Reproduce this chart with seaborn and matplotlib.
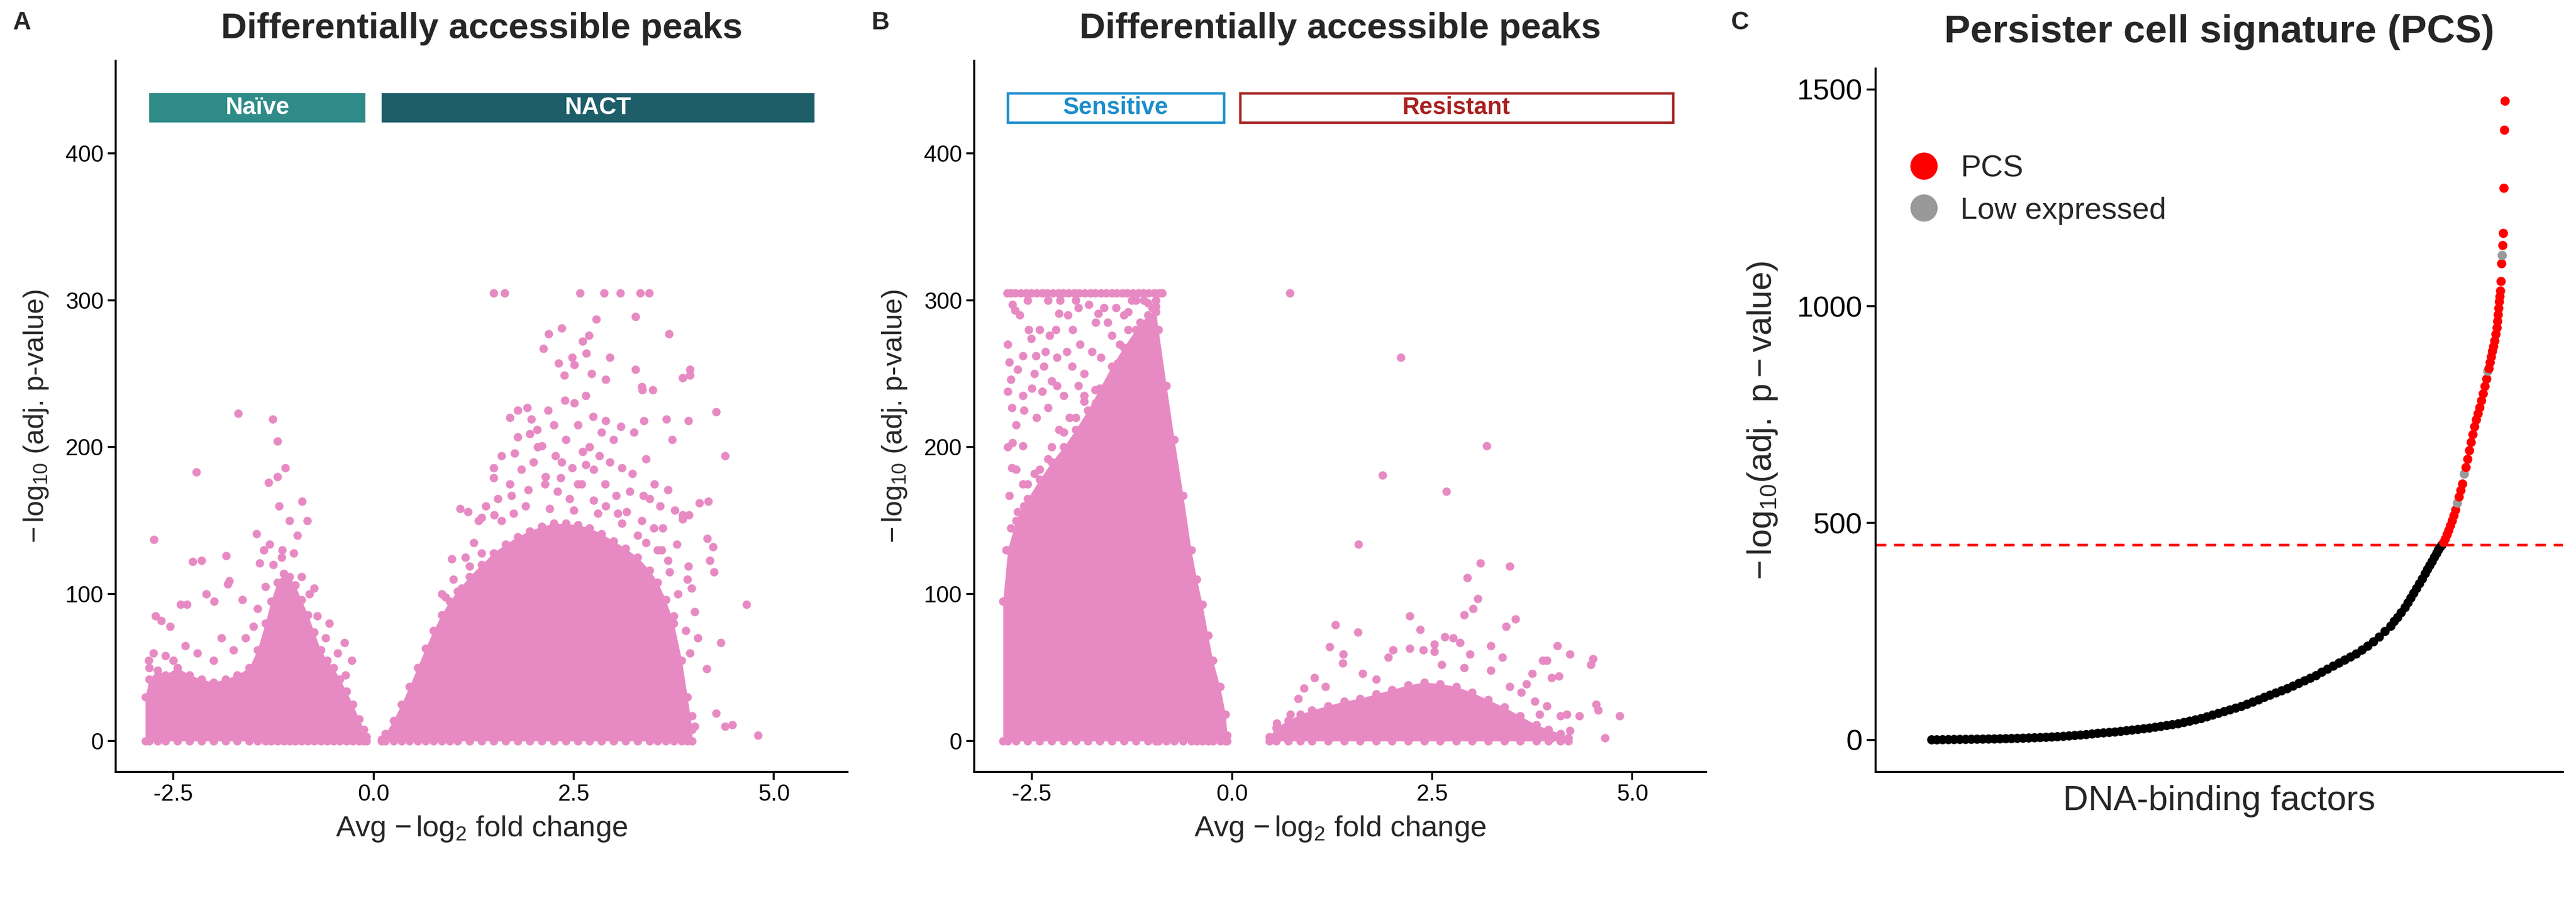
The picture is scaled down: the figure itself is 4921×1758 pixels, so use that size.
import numpy as np
import pandas as pd
import matplotlib
matplotlib.use("Agg")
import matplotlib.pyplot as plt
import seaborn as sns
from matplotlib.lines import Line2D

# ---------------- data ----------------
# Panel A : NACT vs Naive  (dense cloud envelopes + sparse points)
naive_env_x = [-2.85, -2.80, -2.70, -2.60, -2.45, -2.30, -2.15, -2.00, -1.85, -1.70, -1.55, -1.45,
               -1.35, -1.28, -1.20, -1.12, -1.05, -0.98, -0.90, -0.82, -0.74, -0.66, -0.58, -0.50,
               -0.42, -0.34, -0.26, -0.18, -0.12, -0.09]
naive_env_y = [30, 42, 48, 45, 50, 45, 42, 40, 42, 45, 50, 62, 80, 95, 108, 114, 112, 106, 96, 86,
               74, 62, 55, 50, 42, 34, 25, 15, 8, 3]
naive_pts_x = [-1.69, -1.26, -1.20, -2.21, -2.74, -1.31, -1.20, -1.10, -0.89, -0.83, -1.46, -1.84,
               -2.26, -2.15, -0.74, -2.09, -2.72, -2.65, -2.54, -2.81, -2.41, -2.33, -1.99, -1.82,
               -1.80, -1.64, -1.42, -1.37, -1.14, -1.30, -0.55, -0.36, -0.27, -1.18, -1.05, -0.95,
               -2.80, -2.75, -2.60, -2.50, -2.35, -2.20, -2.00, -1.90, -1.75, -1.60, -1.50, -1.45,
               -1.35, -1.25, -1.15, -1.00, -0.90, -0.80, -0.70, -0.60, -0.45, -0.35]
naive_pts_y = [223, 219, 204, 183, 137, 176, 180, 186, 163, 150, 141, 126, 122, 123, 104, 100, 85,
               82, 78, 55, 93, 93, 95, 107, 109, 96, 121, 130, 130, 134, 80, 67, 55, 160, 150, 140,
               50, 60, 58, 55, 65, 60, 55, 70, 62, 70, 78, 90, 105, 120, 125, 128, 112, 100, 85,
               70, 60, 45]

nact_env_x = [0.10, 0.15, 0.25, 0.35, 0.45, 0.55, 0.65, 0.75, 0.85, 0.95, 1.05, 1.20, 1.35, 1.50,
              1.65, 1.80, 1.95, 2.10, 2.25, 2.40, 2.55, 2.70, 2.85, 3.00, 3.15, 3.30, 3.45, 3.55,
              3.65, 3.75, 3.85, 3.92, 3.98]
nact_env_y = [1, 5, 14, 25, 37, 50, 63, 75, 86, 95, 102, 112, 120, 128, 134, 139, 143, 146, 148,
              148, 147, 145, 141, 136, 131, 125, 116, 108, 96, 80, 55, 30, 8]
nact_pts_x = [1.50, 1.64, 2.58, 2.88, 3.08, 3.33, 3.44, 3.27, 2.78, 2.35, 2.19, 3.69, 2.69, 2.12,
              2.61, 2.66, 2.95, 2.48, 2.31, 2.51, 3.27, 3.95, 2.38, 3.95, 3.86, 2.90, 2.72, 3.35,
              3.49, 3.36, 2.65, 2.39, 2.51, 1.92, 1.80, 2.18, 4.28, 2.74, 2.90, 3.93, 3.38, 3.66,
              1.70, 1.97, 3.09, 4.39, 3.73, 4.07, 4.18, 3.86, 3.86, 3.94, 4.24, 4.20, 4.17, 4.25,
              3.93, 4.66, 3.92, 3.97, 4.01, 4.34, 4.16, 4.28, 3.98, 4.01, 4.39, 4.48, 4.80, 3.70,
              3.85, 3.79, 3.21, 3.15, 2.96, 3.46, 3.50, 0.98, 1.20, 1.08, 1.18, 1.35, 1.51, 1.31,
              1.50, 1.50, 1.80, 1.95, 1.76, 1.60, 1.35, 1.10, 0.90, 2.04, 2.10, 2.27, 2.48, 2.61,
              2.82, 2.95, 3.10, 3.23, 3.40, 3.51, 3.37, 3.58, 3.16, 2.89, 2.55, 2.34, 2.14, 1.93,
              1.72, 3.03, 2.75, 3.68, 3.76, 3.61, 3.55, 3.79, 3.68,
              1.40, 1.55, 1.70, 1.85, 2.00, 2.15, 2.30, 2.45, 2.60, 2.75, 2.90, 3.05, 3.20, 3.35,
              3.50, 1.60, 1.90, 2.20, 2.50, 2.80, 3.10, 2.05, 2.40, 2.70, 3.00, 2.25, 2.55, 2.85,
              3.25, 1.75, 2.35, 2.65, 3.45, 3.60, 3.70, 3.80, 3.75, 3.90, 3.95, 4.05, 1.25, 1.15,
              1.00, 0.85, 3.30, 3.40]
nact_pts_y = [305, 305, 305, 305, 305, 305, 305, 289, 287, 281, 277, 277, 276, 267, 272, 264, 261,
              261, 257, 256, 253, 253, 249, 249, 247, 246, 250, 241, 239, 239, 235, 232, 230, 227,
              225, 225, 224, 221, 218, 218, 218, 219, 220, 219, 214, 194, 205, 162, 163, 151, 154,
              154, 132, 123, 138, 115, 119, 93, 110, 104, 88, 67, 49, 19, 17, 10, 10, 11, 4, 3, 3,
              31, 9, 7, 3, 16, 14, 124, 119, 158, 156, 152, 154, 150, 186, 179, 207, 209, 196, 194,
              128, 104, 98, 212, 201, 194, 186, 197, 194, 190, 186, 182, 192, 175, 167, 160, 156,
              175, 175, 179, 175, 171, 167, 167, 164, 171, 157, 145, 130, 134, 123,
              160, 165, 175, 185, 190, 180, 170, 165, 175, 185, 160, 155, 170, 150, 145, 150, 160,
              158, 157, 155, 148, 200, 205, 200, 205, 215, 215, 210, 210, 155, 190, 188, 165, 130,
              115, 100, 85, 75, 60, 70, 135, 125, 110, 100, 140, 135]

# Panel B : Resistant vs Sensitive
sens_env_x = [-2.86, -2.80, -2.70, -2.55, -2.40, -2.25, -2.10, -1.95, -1.80, -1.65, -1.50, -1.35,
              -1.20, -1.05, -0.95, -0.92, -0.82, -0.72, -0.61, -0.51, -0.44, -0.37, -0.30, -0.24,
              -0.15, -0.08, -0.06]
sens_env_y = [95, 130, 150, 165, 178, 190, 200, 212, 225, 240, 255, 268, 280, 290, 292, 280, 242,
              205, 167, 130, 110, 93, 72, 55, 37, 18, 4]
sens_cap_x = [-2.81, -2.76, -2.71, -2.64, -2.57, -2.51, -2.44, -2.37, -2.31, -2.24, -2.17, -2.11,
              -2.04, -1.97, -1.91, -1.84, -1.77, -1.71, -1.64, -1.57, -1.50, -1.44, -1.37, -1.31,
              -1.24, -1.17, -1.11, -1.04, -0.97, -0.91, -0.87]
sens_pts_x = [-2.80, -2.76, -2.78, -2.68, -2.74, -2.71, -2.54, -2.40, -2.51, -2.28, -2.33, -2.61,
              -2.47, -2.19, -2.06, -1.92, -1.79, -1.67, -1.99, -2.16, -2.30, -2.75, -2.61, -2.74,
              -2.61, -2.44, -2.30, -2.16, -2.03, -1.85, -1.71, -1.92, -2.19, -2.37, -2.75, -2.61,
              -2.47, -2.30, -2.13, -1.96, -1.78, -1.64, -1.50, -1.43, -1.54, -2.78, -2.68, -2.54,
              -2.82, -2.76, -1.20, -1.05, -0.95, -1.30,
              -2.70, -2.60, -2.50, -2.45, -2.35, -2.25, -2.10, -2.00, -1.90, -1.85, -1.75, -1.70,
              -1.60, -1.55, -1.45, -1.40, -1.30, -1.25, -1.15, -1.10, -1.00, -0.95, -2.05, -2.20,
              -2.55, -2.65, -2.80, -2.80, -2.70, -2.55, -2.40, -2.25, -2.10, -1.95, -1.85, -2.00,
              -2.35, -2.60, -1.60, -1.70, -1.45, -1.35, -2.15, -1.95]
sens_pts_y = [238, 246, 258, 253, 297, 293, 280, 280, 274, 276, 265, 262, 250, 261, 265, 295, 297,
              291, 280, 291, 300, 227, 235, 203, 201, 220, 227, 212, 220, 231, 239, 242, 242, 238,
              186, 175, 182, 192, 186, 197, 212, 261, 276, 257, 242, 167, 156, 149, 130, 145, 300,
              298, 296, 292,
              215, 225, 240, 262, 255, 245, 235, 255, 270, 250, 265, 285, 295, 285, 295, 270, 280,
              300, 285, 300, 295, 300, 290, 280, 300, 290, 270, 200, 185, 175, 185, 200, 210, 220,
              235, 190, 170, 160, 240, 230, 255, 290, 300, 300]

res_env_x = [0.47, 0.55, 0.70, 0.85, 1.00, 1.20, 1.40, 1.60, 1.80, 2.00, 2.20, 2.40, 2.60, 2.80,
             3.00, 3.20, 3.40, 3.60, 3.80, 3.95, 4.10, 4.20]
res_env_y = [3, 9, 14, 18, 21, 24, 27, 29, 32, 35, 38, 40, 39, 37, 33, 28, 23, 17, 11, 8, 5, 2]
res_pts_x = [0.72, 2.11, 3.18, 1.88, 2.68, 1.58, 3.10, 3.47, 2.94, 3.07, 3.01, 2.90, 2.22, 3.54,
             3.42, 1.29, 1.57, 2.35, 2.66, 2.76, 2.85, 3.23, 4.06, 2.53, 4.22, 4.51, 4.48, 1.22,
             1.39, 2.01, 2.22, 2.53, 2.39, 2.97, 3.38, 3.75, 3.88, 3.93, 3.99, 4.08, 4.55, 4.57,
             4.84, 4.34, 4.18, 4.10, 4.66, 3.99, 4.10, 4.22, 1.03, 0.90, 0.83, 0.73, 0.56, 1.63,
             1.80, 1.95, 3.23, 3.47, 3.61, 3.68, 3.78, 3.84, 3.44, 3.58, 3.67, 3.78, 3.93, 3.41,
             2.90, 2.62, 1.38, 1.17]
res_pts_y = [305, 261, 201, 181, 170, 134, 121, 119, 111, 97, 90, 86, 85, 83, 78, 79, 74, 76, 71,
             70, 67, 65, 65, 66, 59, 56, 52, 64, 59, 62, 63, 61, 62, 59, 57, 46, 55, 55, 43, 44,
             25, 21, 17, 17, 18, 17, 2, 2, 2, 7, 43, 36, 29, 18, 12, 46, 42, 57, 48, 37, 33, 39,
             27, 18, 18, 14, 7, 10, 24, 5, 50, 52, 53, 37]

# Panel A / B group bands
bandA_labels = ["Naïve", "NACT"]
bandB_labels = ["Sensitive", "Resistant"]
band_xmin = [-2.80, 0.10]
band_xmax = [-0.10, 5.51]
band_ymin, band_ymax = 421, 441

# Panel C : ranked DNA-binding factors
pcs_rank = [1, 10, 20, 30, 40, 50, 60, 70, 80, 90, 100, 110, 120, 130, 140, 150, 160, 170, 180,
            190, 200, 210, 220, 230, 240, 250, 260, 270, 280, 290, 300, 310, 320, 330, 340, 350,
            360, 370, 380, 390, 400, 410, 420, 430, 440, 450, 460, 470, 480, 490, 500, 510, 520,
            530, 540, 550, 560, 570, 580, 590, 600, 610, 620, 630, 640, 650, 660, 670, 680, 690,
            700, 710, 720, 730, 740, 750, 760, 770, 780, 790, 800, 806, 812, 818, 825, 830, 835,
            840, 845, 850, 855, 860, 864, 868, 872, 876, 880, 883, 886, 889, 892, 895, 898, 901,
            904, 907, 910, 913, 916, 919, 922, 925, 928, 931, 934, 937, 940, 943, 946, 949, 952,
            955, 958, 961, 964, 967, 969, 971, 973, 975, 977, 979, 981, 983, 985, 986, 987, 988,
            989, 990, 991, 992, 993, 994, 995, 996, 997, 998, 999]
pcs_value = [0, 0, 0.3, 0.5, 0.7, 0.9, 1.0, 1.2, 1.4, 1.6, 1.8, 2.0, 2.3, 2.6, 3.0, 3.4, 3.8, 4.2,
             4.7, 5.2, 5.8, 6.5, 7.2, 8.0, 9, 10, 11, 12, 13.5, 15, 16, 17, 18, 19.5, 21, 22.5, 24,
             25.5, 27, 29, 31, 33, 35, 37, 40, 43, 46, 49, 53, 57, 61, 65, 69, 73, 77, 82, 87, 92,
             98, 103, 108, 113, 118, 124, 130, 136, 142, 148, 156, 163, 170, 177, 184, 191, 198,
             207, 216, 226, 237, 250, 262, 273, 282, 293, 305, 316, 327, 338, 349, 360, 371, 383,
             393, 402, 411, 421, 430, 438, 444, 449, 455, 463, 473, 483, 494, 505, 517, 530, 546,
             560, 575, 590, 613, 628, 647, 667, 686, 704, 722, 738, 752, 766, 782, 798, 815, 832,
             850, 856, 870, 883, 896, 907, 920, 935, 950, 965, 980, 995, 1010, 1022, 1035, 1057,
             1098, 1117, 1140, 1168, 1272, 1406, 1473]
low_expressed_rank = [916, 928, 969, 994]
pcs_threshold = 450

# ---------------- style ----------------
PINK = "#E78AC3"
sns.set_style("ticks")
plt.rcParams['font.family'] = ['Liberation Sans', 'DejaVu Sans']
plt.rcParams['mathtext.fontset'] = 'custom'
plt.rcParams['mathtext.rm'] = 'Liberation Sans'
plt.rcParams['mathtext.it'] = 'Liberation Sans:italic'
plt.rcParams['mathtext.bf'] = 'Liberation Sans:bold'
plt.rcParams['axes.unicode_minus'] = False

W, H = 4921, 1758
fig = plt.figure(figsize=(W / 300, H / 300), dpi=300)
axA = fig.add_axes([221 / W, 1 - 1475 / H, (1619 - 221) / W, (1475 - 116) / H])
axB = fig.add_axes([1861 / W, 1 - 1475 / H, (3259 - 1861) / W, (1475 - 116) / H])
axC = fig.add_axes([3583 / W, 1 - 1475 / H, (4896 - 3583) / W, (1475 - 131) / H])

PT_S = 15


def cloud(ax, ex, ey):
    ax.fill_between(ex, 0, ey, color=PINK, lw=0, zorder=2)
    sns.scatterplot(x=ex, y=ey, ax=ax, color=PINK, s=PT_S, linewidth=0, zorder=3)
    sns.scatterplot(x=ex, y=[0] * len(ex), ax=ax, color=PINK, s=PT_S, linewidth=0, zorder=3)


def style_volcano(ax):
    ax.set_xlim(-3.22, 5.92)
    ax.set_ylim(-21, 463)
    ax.set_xticks([-2.5, 0, 2.5, 5.0])
    ax.set_xticklabels(["-2.5", "0.0", "2.5", "5.0"])
    ax.set_yticks([0, 100, 200, 300, 400])
    ax.set_xlabel(r"Avg $-\,\mathrm{log}_{2}$ fold change", fontsize=13.5, labelpad=4)
    ax.set_ylabel(r"$-\,\mathrm{log}_{10}$ (adj. p-value)", fontsize=13, labelpad=7)
    ax.tick_params(labelsize=10.5, length=3.5, width=0.9, colors="black", pad=2)
    for s in ["top", "right"]:
        ax.spines[s].set_visible(False)
    for s in ["left", "bottom"]:
        ax.spines[s].set_linewidth(0.9)
        ax.spines[s].set_color("black")


# Panel A
cloud(axA, naive_env_x, naive_env_y)
cloud(axA, nact_env_x, nact_env_y)
sns.scatterplot(x=naive_pts_x, y=naive_pts_y, ax=axA, color=PINK, s=PT_S, linewidth=0, zorder=3)
sns.scatterplot(x=nact_pts_x, y=nact_pts_y, ax=axA, color=PINK, s=PT_S, linewidth=0, zorder=3)
colsA = ["#2E8B88", "#1D5E69"]
for lab, x0, x1, c in zip(bandA_labels, band_xmin, band_xmax, colsA):
    axA.bar((x0 + x1) / 2, band_ymax - band_ymin, width=x1 - x0, bottom=band_ymin, color=c, lw=0)
    axA.text((x0 + x1) / 2, (band_ymin + band_ymax) / 2, lab, color="white", fontsize=11,
             fontweight="bold", ha="center", va="center")
style_volcano(axA)

# Panel B
cloud(axB, sens_env_x, sens_env_y)
cloud(axB, res_env_x, res_env_y)
sns.scatterplot(x=sens_cap_x, y=[305] * len(sens_cap_x), ax=axB, color=PINK, s=PT_S, linewidth=0, zorder=3)
sns.scatterplot(x=sens_pts_x, y=sens_pts_y, ax=axB, color=PINK, s=PT_S, linewidth=0, zorder=3)
sns.scatterplot(x=res_pts_x, y=res_pts_y, ax=axB, color=PINK, s=PT_S, linewidth=0, zorder=3)
colsB = ["#1C8DCB", "#A8201F"]
for lab, x0, x1, c in zip(bandB_labels, band_xmin, band_xmax, colsB):
    axB.bar((x0 + x1) / 2, band_ymax - band_ymin, width=x1 - x0, bottom=band_ymin,
            facecolor="white", edgecolor=c, lw=1.1)
    axB.text((x0 + x1) / 2, (band_ymin + band_ymax) / 2, lab, color=c, fontsize=11,
             fontweight="bold", ha="center", va="center")
style_volcano(axB)

# Panel C
dfC = pd.DataFrame({"rank": pcs_rank, "value": pcs_value})
dfC["group"] = np.where(dfC["value"] >= pcs_threshold, "PCS", "Other")
dfC.loc[dfC["rank"].isin(low_expressed_rank), "group"] = "Low expressed"
palC = {"Other": "black", "PCS": "#FF0000", "Low expressed": "#999999"}
sns.scatterplot(data=dfC, x="rank", y="value", hue="group", palette=palC, ax=axC, s=18,
                linewidth=0, legend=False, zorder=3)
axC.axhline(pcs_threshold, color="#FF0000", lw=1.2, ls=(0, (4, 3)), zorder=2)
axC.set_xlim(-96.7, 1099.6)
axC.set_ylim(-74, 1548)
axC.set_xticks([])
axC.set_yticks([0, 500, 1000, 1500])
axC.set_xlabel("DNA-binding factors", fontsize=16, labelpad=6)
axC.set_ylabel(r"$-\,\mathrm{log}_{10}\left(\mathrm{adj.\ p-value}\right)$", fontsize=15.5, labelpad=8)
axC.tick_params(labelsize=13.5, length=4, width=0.9, colors="black", pad=2)
for s in ["top", "right"]:
    axC.spines[s].set_visible(False)
for s in ["left", "bottom"]:
    axC.spines[s].set_linewidth(0.9)
    axC.spines[s].set_color("black")
handles = [Line2D([], [], marker="o", ls="", color="#FF0000", markersize=12.5, mew=0),
           Line2D([], [], marker="o", ls="", color="#999999", markersize=12.5, mew=0)]
axC.legend(handles, ["PCS", "Low expressed"], loc="upper left", bbox_to_anchor=(0.03, 0.895),
           frameon=False, fontsize=14, handlelength=1.0, handletextpad=0.7, labelspacing=0.45,
           borderaxespad=0)

# Titles & panel letters
fig.text(920 / W, 1 - 55 / H, "Differentially accessible peaks", fontsize=16.5, fontweight="bold",
         ha="center", va="center")
fig.text(2560 / W, 1 - 55 / H, "Differentially accessible peaks", fontsize=16.5, fontweight="bold",
         ha="center", va="center")
fig.text(4240 / W, 1 - 61 / H, "Persister cell signature (PCS)", fontsize=18, fontweight="bold",
         ha="center", va="center")
for lab, xp in zip(["A", "B", "C"], [42, 1682, 3324]):
    fig.text(xp / W, 1 - 44 / H, lab, fontsize=11.5, fontweight="bold", ha="center", va="center")

fig.savefig("out.png", dpi=300)
